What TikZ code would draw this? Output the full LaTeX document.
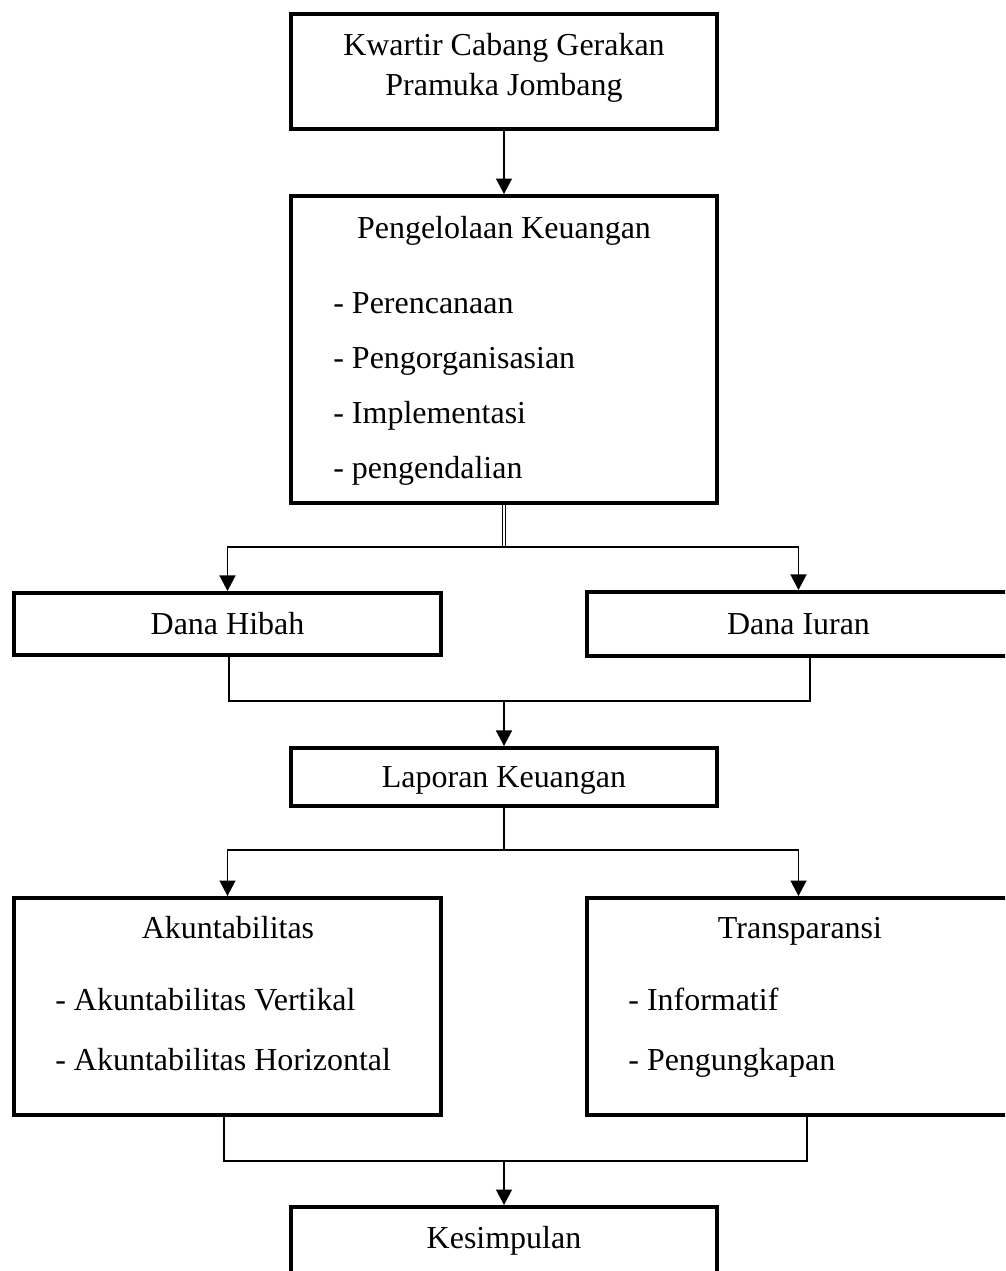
\documentclass[tikz,border=0pt]{standalone}
\usepackage{fontspec}
\setmainfont{Liberation Serif}
\usetikzlibrary{arrows.meta}

\tikzset{
  box/.style 2 args={draw, line width=2.3pt, minimum width=#1, minimum height=#2, inner sep=0pt},
  txt/.style={inner sep=0pt, text height=12.5pt, text depth=4pt, yshift=-1.7pt, font=\fontsize{18.2}{22.8}\selectfont},
  item/.style={txt, anchor=west},
  conn/.style={line width=0.75pt},
  arr/.style={conn, -{Triangle[length=0.31cm, width=0.32cm]}}
}

\begin{document}
\begin{tikzpicture}[x=0.02cm, y=-0.02cm]
  \useasboundingbox (0,0) rectangle (1005,1271);
  \clip (0,0) rectangle (1005,1271);

  % boxes
  \node[box={8.52cm}{2.3cm}] (kwarcab) at (504,71.5) {};
  \node[box={8.52cm}{6.14cm}] (kelola) at (504,349.5) {};
  \node[box={8.54cm}{1.24cm}] (hibah) at (227.5,624) {};
  \node[box={8.46cm}{1.28cm}] (iuran) at (798.5,624) {};
  \node[box={8.52cm}{1.16cm}] (laporan) at (504,777) {};
  \node[box={8.54cm}{4.34cm}] (akun) at (227.5,1006.5) {};
  \node[box={8.46cm}{4.34cm}] (trans) at (798.5,1006.5) {};
  \node[box={8.52cm}{1.56cm}] (simpul) at (504,1246) {};

  % texts
  \node[txt] (kwarcab1) at (504,45) {Kwartir Cabang Gerakan};
  \node[txt] (kwarcab2) at (504,85) {Pramuka Jombang};
  \node[txt] (kelolatxt) at (504,228) {Pengelolaan Keuangan};
  \node[item] (i1) at (333,303) {- Perencanaan};
  \node[item] (i2) at (333,358) {- Pengorganisasian};
  \node[item] (i3) at (333,413) {- Implementasi};
  \node[item] (i4) at (333,468) {- pengendalian};
  \node[txt] (hibahtxt) at (227.5,624) {Dana Hibah};
  \node[txt] (iurantxt) at (798.5,624) {Dana Iuran};
  \node[txt] (laporantxt) at (504,777) {Laporan Keuangan};
  \node[txt] (akuntxt) at (228,928) {Akuntabilitas};
  \node[item] (a1) at (55,1000) {- Akuntabilitas Vertikal};
  \node[item] (a2) at (55,1060) {- Akuntabilitas Horizontal};
  \node[txt] (transtxt) at (800,928) {Transparansi};
  \node[item] (t1) at (628,1000) {- Informatif};
  \node[item] (t2) at (628,1060) {- Pengungkapan};
  \node[txt] (simpultxt) at (504,1238) {Kesimpulan};

  % junctions
  \coordinate (j1) at (504,547);
  \coordinate (j2) at (504,701);
  \coordinate (j3) at (504,850);
  \coordinate (j4) at (504,1161);

  % connectors
  \draw[arr] (kwarcab.south) -- (kelola.north);
  \draw[conn] ([xshift=-0.7pt]kelola.south) -- ([xshift=-0.7pt]j1);
  \draw[conn] ([xshift=0.7pt]kelola.south) -- ([xshift=0.7pt]j1);
  \draw[arr] (j1) -| (hibah.north);
  \draw[arr] (j1) -| (iuran.north);
  \draw[conn] ([xshift=0.85pt]hibah.south) |- (j2) -| ([xshift=6.5pt]iuran.south);
  \draw[arr] (j2) -- (laporan.north);
  \draw[conn] (laporan.south) -- (j3);
  \draw[arr] (j3) -| (akun.north);
  \draw[arr] (j3) -| (trans.north);
  \draw[conn] ([xshift=-2pt]akun.south) |- (j4) -| ([xshift=4.8pt]trans.south);
  \draw[arr] (j4) -- (simpul.north);
\end{tikzpicture}
\end{document}
